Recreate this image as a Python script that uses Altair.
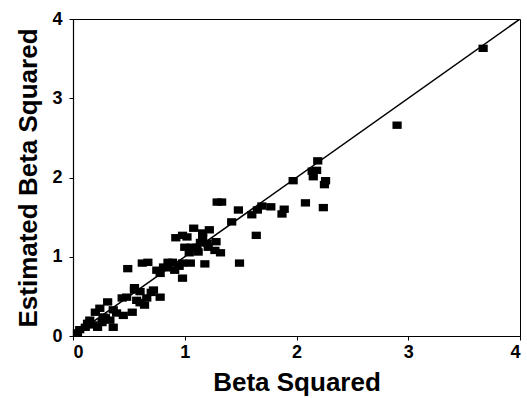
import altair as alt
import pandas as pd

beta_sq = [3.67, 2.90, 2.19, 2.14, 2.18, 2.15, 2.26, 2.25, 1.97, 2.08,
           2.24, 1.89, 1.87, 1.77, 1.69, 1.65, 1.60, 1.48, 1.42, 1.64,
           1.29, 1.33, 1.49, 1.18, 1.32, 1.28, 1.22, 1.08, 0.92, 0.98,
           1.16, 1.00, 1.11, 1.21, 1.04, 1.12, 0.98, 1.05, 0.87, 0.81,
           0.75, 0.78, 0.98, 1.02, 1.16, 1.20, 1.06, 0.89, 0.67, 0.62,
           0.49, 0.84, 0.72, 0.78, 0.60, 0.55, 0.66, 0.57, 0.48, 0.44,
           0.64, 0.60, 0.53, 0.45, 0.36, 0.31, 0.24, 0.33, 0.36, 0.27,
           0.20, 0.15, 0.22, 0.11, 0.06, 0.04, 0.39, 0.29, 0.18, 0.55,
           0.91, 0.95, 1.27, 0.85, 0.13, 0.26, 1.14, 0.70]
est_beta_sq = [3.63, 2.66, 2.21, 2.08, 2.09, 2.01, 1.96, 1.91, 1.96, 1.68,
               1.62, 1.60, 1.54, 1.63, 1.64, 1.59, 1.53, 1.59, 1.44, 1.27,
               1.69, 1.69, 0.92, 0.91, 1.05, 1.19, 1.34, 1.36, 1.24, 1.27,
               1.24, 1.12, 1.12, 1.12, 1.05, 1.06, 0.92, 0.92, 0.92, 0.87,
               0.83, 0.79, 0.73, 1.25, 1.30, 1.17, 1.12, 0.93, 0.93, 0.92,
               0.85, 0.86, 0.58, 0.49, 0.56, 0.58, 0.48, 0.45, 0.49, 0.48,
               0.39, 0.42, 0.30, 0.26, 0.33, 0.43, 0.35, 0.20, 0.11, 0.24,
               0.30, 0.20, 0.11, 0.11, 0.08, 0.04, 0.29, 0.23, 0.14, 0.61,
               0.83, 0.88, 1.08, 0.93, 0.16, 0.17, 1.18, 0.55]

line_x = [0, 4]
line_y = [0, 4]
ticks = [0, 1, 2, 3, 4]

pts = pd.DataFrame({"x": beta_sq, "y": est_beta_sq})
ref = pd.DataFrame({"x": line_x, "y": line_y})

FONT = "Liberation Sans"

xs = alt.Scale(domain=[0, 4], nice=False)
ys = alt.Scale(domain=[0, 4], nice=False)

x_axis = alt.Axis(values=ticks, title="Beta Squared", grid=False, tickSize=4,
                  labelPadding=3, titlePadding=8, format="d")
y_axis = alt.Axis(values=ticks, title="Estimated Beta Squared", grid=False, tickSize=4,
                  labelPadding=7, titlePadding=10, format="d")

line = alt.Chart(ref).mark_line(color="black", strokeWidth=1.5, clip=True).encode(
    x=alt.X("x:Q", scale=xs, axis=x_axis),
    y=alt.Y("y:Q", scale=ys, axis=y_axis),
)

points = alt.Chart(pts).mark_point(
    shape="M-1,-0.8L1,-0.8L1,0.8L-1,0.8Z", filled=True, color="black",
    opacity=1, size=85, strokeWidth=0
).encode(
    x=alt.X("x:Q", scale=xs),
    y=alt.Y("y:Q", scale=ys),
)

chart = (line + points).properties(
    width=447, height=317,
    autosize=alt.AutoSizeParams(type="none"),
    padding={"left": 73, "top": 19, "right": 7, "bottom": 62},
    background="white",
).configure_view(
    stroke="black", strokeWidth=1
).configure_axis(
    domainColor="black", tickColor="black", labelColor="black", titleColor="black",
    labelFont=FONT, titleFont=FONT, labelFontSize=18, titleFontSize=26,
    labelFontWeight="bold", titleFontWeight="bold", domainWidth=1.2,
)

chart.save("out.html", embed_options={"renderer": "svg", "actions": False})
